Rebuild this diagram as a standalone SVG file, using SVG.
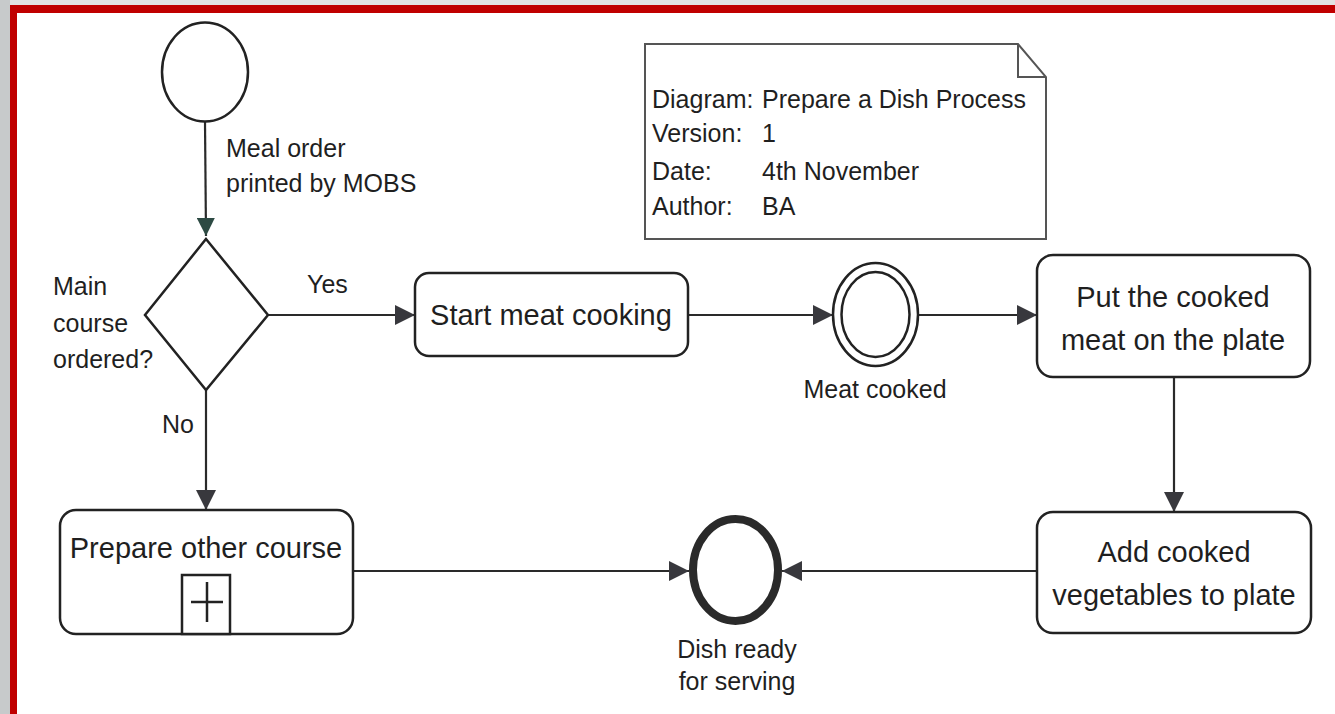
<svg xmlns="http://www.w3.org/2000/svg" width="1335" height="714" viewBox="0 0 1335 714">
<style>
.frame-grey{fill:#d6d9da}
.t{font-family:"Liberation Sans",Arial,sans-serif;fill:#1f1f1f}
.lbl{font-size:25px}
.task{font-size:29px;text-anchor:middle}
.shape{fill:#fff;stroke:#222;stroke-width:2.5}
.conn{fill:none;stroke:#2a2a2a;stroke-width:2.2}
</style>
<defs>
<marker id="arr" viewBox="0 0 20 20" refX="20" refY="10" markerWidth="20" markerHeight="20" markerUnits="userSpaceOnUse" orient="auto">
<path d="M0,0 L20,10 L0,20 z" fill="#38383d"/>
</marker>
<marker id="arrg" viewBox="0 0 20 20" refX="20" refY="10" markerWidth="18" markerHeight="18" markerUnits="userSpaceOnUse" orient="auto">
<path d="M0,0 L20,10 L0,20 z" fill="#2d4a43"/>
</marker>
</defs>
<!-- frame -->
<rect x="0" y="0" width="1335" height="714" fill="#e2e3e3"/>
<rect x="0" y="0" width="10" height="714" fill="#c7cacb"/>
<rect x="10" y="5" width="1325" height="709" fill="#c00000"/>
<rect x="17" y="13" width="1318" height="701" fill="#ffffff"/>

<g id="connectors">
<path class="conn" d="M205,122 L206,236" marker-end="url(#arrg)"/>
<path class="conn" d="M268,315 L415,315" marker-end="url(#arr)"/>
<path class="conn" d="M688,315 L833,315" marker-end="url(#arr)"/>
<path class="conn" d="M918,315 L1037,315" marker-end="url(#arr)"/>
<path class="conn" d="M1174,377 L1174,512" marker-end="url(#arr)"/>
<path class="conn" d="M1037,571 L782,571" marker-end="url(#arr)"/>
<path class="conn" d="M353,571 L689,571" marker-end="url(#arr)"/>
<path class="conn" d="M206,390 L206,510" marker-end="url(#arr)"/>
<text class="t lbl" x="307" y="293">Yes</text>
<text class="t lbl" x="162" y="433">No</text>
</g>

<g id="start">
<ellipse class="shape" cx="205" cy="72" rx="43" ry="49.5"/>
<text class="t lbl" x="226" y="157">Meal order</text>
<text class="t lbl" x="226" y="192">printed by MOBS</text>
</g>

<g id="gateway">
<path class="shape" d="M206,239 L268,315 L206,390 L145,315 z"/>
<text class="t lbl" x="53" y="295">Main</text>
<text class="t lbl" x="53" y="332">course</text>
<text class="t lbl" x="53" y="368">ordered?</text>
</g>

<g id="start-meat">
<rect class="shape" x="415" y="273" width="273" height="83" rx="14"/>
<text class="t task" x="551" y="325">Start meat cooking</text>
</g>

<g id="meat-cooked">
<ellipse class="shape" cx="875.5" cy="314.5" rx="42.5" ry="51.5"/>
<ellipse class="shape" cx="875.5" cy="314.5" rx="34" ry="42.5"/>
<text class="t lbl" x="875" y="398" text-anchor="middle">Meat cooked</text>
</g>

<g id="put-meat">
<rect class="shape" x="1037" y="255" width="273" height="122" rx="16"/>
<text class="t task" x="1173" y="307">Put the cooked</text>
<text class="t task" x="1173" y="350">meat on the plate</text>
</g>

<g id="add-veg">
<rect class="shape" x="1037" y="512" width="274" height="121" rx="16"/>
<text class="t task" x="1174" y="562">Add cooked</text>
<text class="t task" x="1174" y="605">vegetables to plate</text>
</g>

<g id="prepare-other">
<rect class="shape" x="60" y="510" width="293" height="124" rx="16"/>
<text class="t task" x="206" y="558">Prepare other course</text>
<rect x="182" y="575" width="48" height="59" fill="#fff" stroke="#222" stroke-width="2.5"/>
<path d="M191,602 L223,602 M207,582 L207,622" stroke="#222" stroke-width="2.5" fill="none"/>
</g>

<g id="dish-ready">
<ellipse cx="735.5" cy="570" rx="42.5" ry="51" fill="#fff" stroke="#2a2a2a" stroke-width="8"/>
<text class="t lbl" x="737" y="658" text-anchor="middle">Dish ready</text>
<text class="t lbl" x="737" y="690" text-anchor="middle">for serving</text>
</g>

<g id="note">
<path d="M645,44 L1018,44 L1046,77 L1046,239 L645,239 z" fill="#fff" stroke="#555" stroke-width="2"/>
<path d="M1018,44 L1018,77 L1046,77" fill="none" stroke="#555" stroke-width="2"/>
<text class="t lbl" x="652" y="108">Diagram:</text>
<text class="t lbl" x="762" y="108">Prepare a Dish Process</text>
<text class="t lbl" x="652" y="142">Version:</text>
<text class="t lbl" x="762" y="142">1</text>
<text class="t lbl" x="652" y="180">Date:</text>
<text class="t lbl" x="762" y="180">4th November</text>
<text class="t lbl" x="652" y="215">Author:</text>
<text class="t lbl" x="762" y="215">BA</text>
</g>
</svg>
